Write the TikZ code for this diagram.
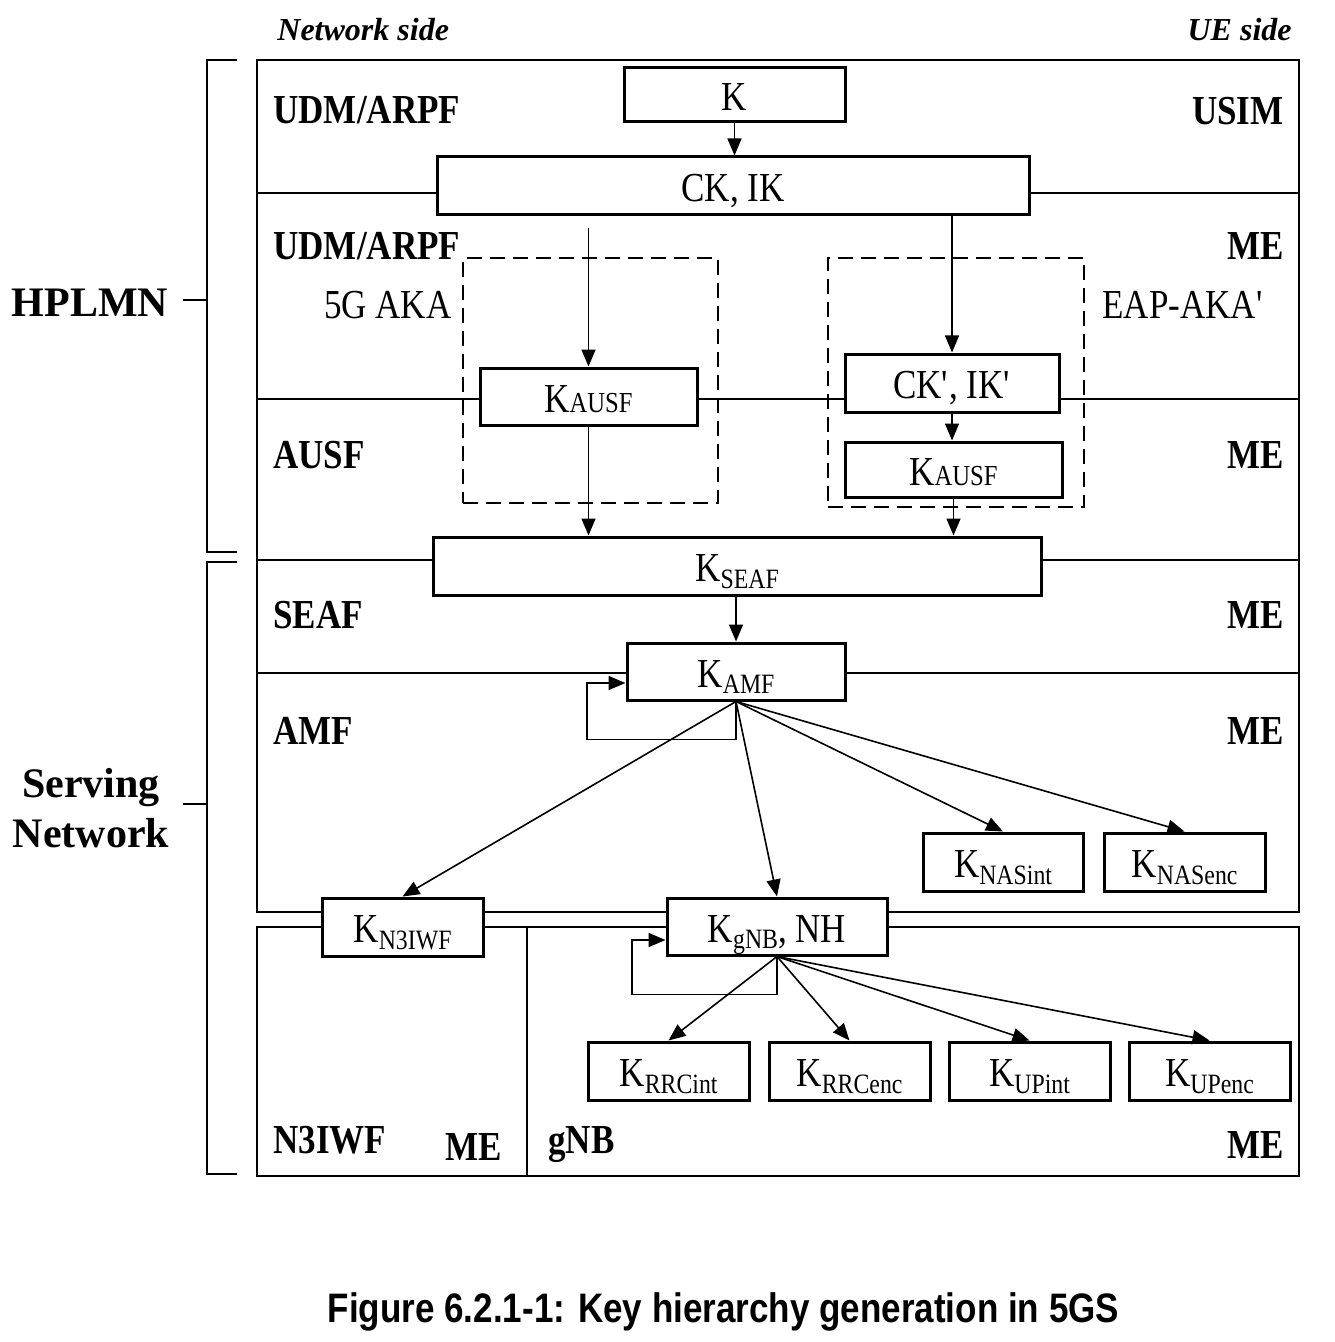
\documentclass[tikz,border=0pt]{standalone}
\usepackage{fontspec}
\setmainfont[FakeStretch=0.85]{Liberation Serif}
\newfontfamily\sidefont{Liberation Serif}
\newfontfamily\captionfont[FakeStretch=0.85]{Liberation Sans}
\usetikzlibrary{positioning,arrows.meta}
\tikzstyle{arr} = [line width=0.8pt, -{Triangle[length=8.5pt,width=7pt]}]
\tikzstyle{region} = [line width=1pt]
\newcommand{\subk}[1]{\raisebox{-0.35ex}{\fontsize{14}{14}\selectfont #1}}
\newcommand{\capk}[1]{{\fontsize{14.5}{14}\selectfont #1}}

\begin{document}
\begin{tikzpicture}[x=0.5pt,y=-0.5pt,
		keybox/.style={
				rectangle,
				draw=black,
				line width=1.5pt,
				fill=white,
				inner sep=0pt,
				text height=15.5pt,
				text depth=0pt,
				font=\fontsize{20.6}{24}\selectfont,
			},
		lbl/.style={inner sep=0pt, font=\fontsize{20.6}{24}\selectfont\bfseries},
		algo/.style={draw=black, line width=1pt, dash pattern=on 7.5pt off 4pt, inner sep=0pt},
	]
	\useasboundingbox (0,0) rectangle (1334,1342);

	% Sides
	\node[inner sep=0pt, anchor=base west, font=\sidefont\fontsize{16}{18}\selectfont\bfseries\itshape] (netside) at (277,41) {Network side};
	\node[inner sep=0pt, anchor=base east, font=\sidefont\fontsize{16}{18}\selectfont\bfseries\itshape] (ueside) at (1292,41) {UE side};

	% Regions
	\draw[region] (257,60) rectangle (1299,912);
	\draw[region] (257,193) -- (1299,193);
	\draw[region] (257,399) -- (1299,399);
	\draw[region] (257,560) -- (1299,560);
	\draw[region] (257,673) -- (1299,673);
	\draw[region] (257,927) rectangle (527,1176);
	\draw[region] (527,927) rectangle (1299,1176);

	% Brackets
	\draw[region] (237,60) -- (207,60) -- (207,552) -- (237,552);
	\draw[region] (183,300) -- (207,300);
	\draw[region] (237,562) -- (207,562) -- (207,1174) -- (237,1174);
	\draw[region] (183,804) -- (207,804);
	\node[inner sep=0pt, anchor=base, font=\sidefont\fontsize{21}{25}\selectfont\bfseries] (hplmn) at (90,316) {HPLMN};
	\node[inner sep=0pt, align=center, font=\sidefont\fontsize{21}{25}\selectfont\bfseries] (serving) at (91,808) {Serving\\Network};

	% Region labels
	\node[lbl, anchor=base west] (udm1) at (273,124) {UDM/ARPF};
	\node[lbl, anchor=base east] (usim) at (1284,125) {USIM};
	\node[lbl, anchor=base west] (udm2) at (273,260) {UDM/ARPF};
	\node[lbl, anchor=base east] (me1) at (1284,260) {ME};
	\node[lbl, anchor=base west] (ausf) at (273,468) {AUSF};
	\node[lbl, anchor=base east] (me2) at (1284,468) {ME};
	\node[lbl, anchor=base west] (seaf) at (273,628) {SEAF};
	\node[lbl, anchor=base east] (me3) at (1284,628) {ME};
	\node[lbl, anchor=base west] (amf) at (273,744) {AMF};
	\node[lbl, anchor=base east] (me4) at (1284,744) {ME};
	\node[lbl, anchor=base west] (n3iwf) at (273,1153) {N3IWF};
	\node[lbl, anchor=base east] (me5) at (502,1160) {ME};
	\node[lbl, anchor=base west] (gnb) at (548,1153) {gNB};
	\node[lbl, anchor=base east] (me6) at (1284,1158) {ME};

	% Authentication methods
	\node[algo, minimum width=127.5pt, minimum height=122.5pt] (aka) at (590.5,380.5) {};
	\node[algo, minimum width=128pt, minimum height=124.5pt] (eap) at (956,382.5) {};
	\node[inner sep=0pt, anchor=base east, font=\fontsize{20.6}{24}\selectfont] (akalbl) at (452,319) {5G AKA};
	\node[inner sep=0pt, anchor=base west, font=\fontsize{20.6}{24}\selectfont] (eaplbl) at (1102,319) {EAP-AKA\textquotesingle};

	% Keys
	\node[keybox, minimum width=110.5pt, minimum height=27pt] (k) at (734.5,95) {K};
	\node[keybox, minimum width=296pt, minimum height=29pt] (ckik) at (733,186) {CK, IK};
	\node[keybox, minimum width=108.5pt, minimum height=28.5pt] (kausfa) at (588.5,396.5) {K\capk{AUSF}};
	\node[keybox, minimum width=107pt, minimum height=29pt] (ckikp) at (952,383) {CK\textquotesingle, IK\textquotesingle};
	\node[keybox, minimum width=108.5pt, minimum height=27.5pt] (kausfb) at (953.5,469.5) {K\capk{AUSF}};
	\node[keybox, minimum width=304pt, minimum height=29pt] (kseaf) at (737,566) {K\subk{SEAF}};
	\node[keybox, minimum width=109pt, minimum height=28.5pt] (kamf) at (736,671.5) {K\subk{AMF}};
	\node[keybox, minimum width=80pt, minimum height=29pt] (knasint) at (1003,862) {K\subk{NASint}};
	\node[keybox, minimum width=80.5pt, minimum height=29pt] (knasenc) at (1184.5,862) {K\subk{NASenc}};
	\node[keybox, minimum width=80.5pt, minimum height=29pt] (kn3iwf) at (402.5,927) {K\subk{N3IWF}};
	\node[keybox, minimum width=110pt, minimum height=28.5pt] (kgnb) at (777,926.5) {K\subk{gNB}, NH};
	\node[keybox, minimum width=80.5pt, minimum height=29pt] (krrcint) at (668.5,1071) {K\subk{RRCint}};
	\node[keybox, minimum width=80.5pt, minimum height=29pt] (krrcenc) at (849.5,1071) {K\subk{RRCenc}};
	\node[keybox, minimum width=80.5pt, minimum height=29pt] (kupint) at (1029.5,1071) {K\subk{UPint}};
	\node[keybox, minimum width=80.5pt, minimum height=29pt] (kupenc) at (1209.5,1071) {K\subk{UPenc}};

	% Derivations
	\draw[arr] (k.south) -- (k.south |- ckik.north);
	\draw[arr] ([yshift=-6pt]ckik.south -| kausfa.north) -- (kausfa.north);
	\draw[arr] (ckik.south -| ckikp.north) -- (ckikp.north);
	\draw[arr] (ckikp.south) -- (ckikp.south |- kausfb.north);
	\draw[arr] (kausfa.south) -- (kausfa.south |- kseaf.north);
	\draw[arr] (kausfb.south) -- (kausfb.south |- kseaf.north);
	\draw[arr] (kseaf.south -| kamf.north) -- (kamf.north);
	\draw[arr] (kamf.south) -- ++(0,38) -- ++(-149,0) |- ([yshift=-5.75pt]kamf.west);
	\draw[arr] (kamf.south) -- (kn3iwf.north);
	\draw[arr] (kamf.south) -- (kgnb.north);
	\draw[arr] (kamf.south) -- (knasint.north);
	\draw[arr] (kamf.south) -- (knasenc.north);
	\draw[arr] (kgnb.south) -- ++(0,38) -- ++(-145,0) |- ([yshift=-6.75pt]kgnb.west);
	\draw[arr] (kgnb.south) -- (krrcint.north);
	\draw[arr] (kgnb.south) -- (krrcenc.north);
	\draw[arr] (kgnb.south) -- (kupint.north);
	\draw[arr] (kgnb.south) -- (kupenc.north);

	% Caption
	\node[inner sep=0pt, anchor=base, font=\captionfont\fontsize{20.6}{24}\selectfont\bfseries] (caption) at (723.5,1322) {Figure 6.2.1-1: Key hierarchy generation in 5GS};

\end{tikzpicture}
\end{document}
